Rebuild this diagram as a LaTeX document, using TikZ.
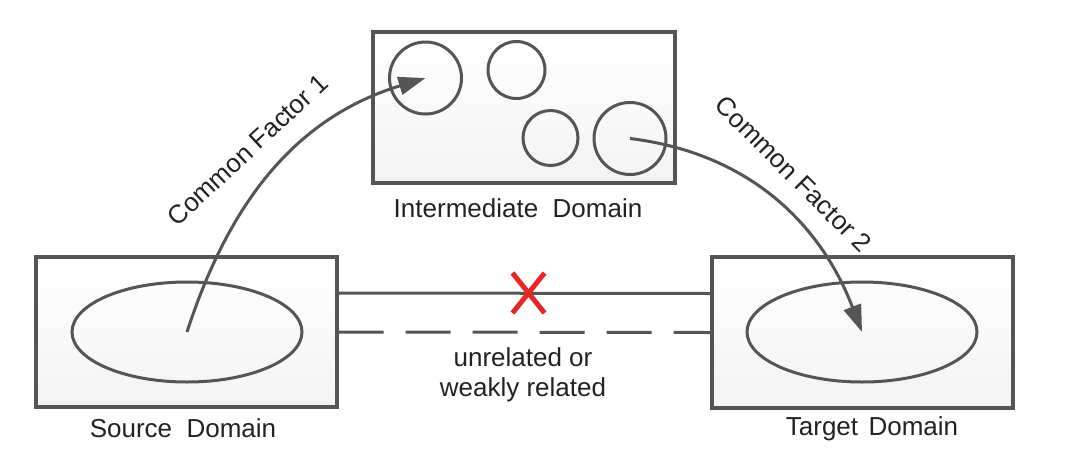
\documentclass[tikz,border=0pt]{standalone}
\usepackage{fontspec}
\setmainfont{Liberation Sans}
\usetikzlibrary{arrows.meta,shapes.geometric,calc}
\definecolor{ln}{HTML}{555555}
\definecolor{txt}{HTML}{222222}
\definecolor{xred}{HTML}{E8262A}
\begin{document}
\begin{tikzpicture}[x=1pt,y=1pt,
  domainbox/.style={rectangle, draw=ln, line width=3.2pt, top color=white, bottom color=gray!9, inner sep=0pt},
  setshape/.style={ellipse, draw=ln, line width=3pt, inner sep=0pt, minimum width=230pt, minimum height=100pt},
  subset/.style={circle, draw=ln, line width=3pt, inner sep=0pt},
  lbl/.style={text=txt, font=\fontsize{26}{30}\selectfont, inner sep=0pt},
  link/.style={draw=ln, line width=3pt},
  flow/.style={draw=ln, line width=3pt, -{Triangle[length=27pt,width=18pt]}},
  redx/.style={draw=xred, line width=5pt}]
\useasboundingbox (0,0) rectangle (1078,-469);
% boxes
\node[domainbox, minimum width=302pt, minimum height=151pt] (inter) at (524,-107.5) {};
\node[domainbox, minimum width=301pt, minimum height=150pt] (src) at (186.5,-332) {};
\node[domainbox, minimum width=301pt, minimum height=151pt] (tgt) at (862.5,-332.5) {};
% sets
\node[setshape] (srcset) at (187,-332) {};
\node[setshape] (tgtset) at (862,-332) {};
\node[subset, minimum size=72pt] (c1) at (425.5,-78) {};
\node[subset, minimum size=57pt] (c2) at (516.5,-70) {};
\node[subset, minimum size=55pt] (c3) at (550.5,-138) {};
\node[subset, minimum size=72pt] (c4) at (630,-138.5) {};
% labels
\node[lbl, anchor=base] (srclbl) at (183,-437) {Source\ \ Domain};
\node[lbl, anchor=base] (interlbl) at (518,-217) {Intermediate\ \ Domain};
\node[lbl, anchor=base] (tgtlbl) at (872,-435) {Target\hspace{0.4em}Domain};
% relation lines
\draw[link] ([yshift=39pt]src.east) -- ([yshift=39pt]tgt.west);
\draw[link, dash pattern=on 45pt off 22pt] (src.east) -- (tgt.west);
\coordinate (cross) at (528.5,-293);
\draw[redx] ($(cross)+(-16,20)$) -- ($(cross)+(16,-20)$);
\draw[redx] ($(cross)+(16,20)$) -- ($(cross)+(-16,-20)$);
\node[lbl, align=center] (rel) at (523,-375) {unrelated or\\weakly related};
% common factor arrows
\draw[flow] (srcset.center) to[out=72,in=197] (c1.center);
\draw[flow] (c4.center) to[out=-7,in=111] (tgtset.center);
\node[lbl, rotate=43] (cf1) at (247.5,-150) {Common Factor 1};
\node[lbl, rotate=-45] (cf2) at (793.5,-174) {Common Factor 2};
\end{tikzpicture}
\end{document}
